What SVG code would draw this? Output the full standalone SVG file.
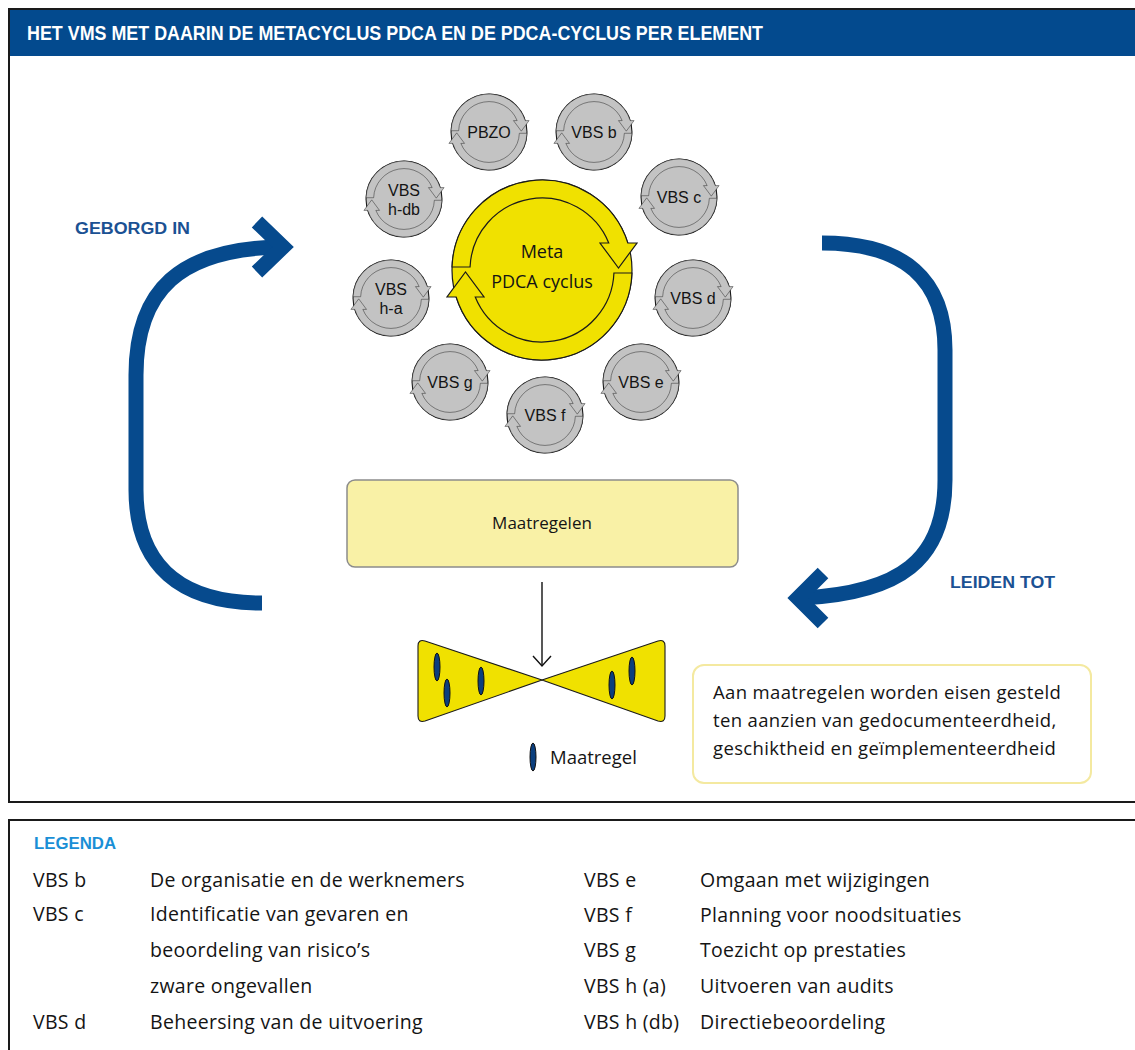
<svg xmlns="http://www.w3.org/2000/svg" xmlns:xlink="http://www.w3.org/1999/xlink" width="1135" height="1050" viewBox="0 0 1135 1050">
  <style>
    .txt { font-family: "Open Sans", "Liberation Sans", sans-serif; fill: #141414; }
    .head { font-family: "Liberation Sans", Arial, sans-serif; font-weight: bold; }
    .node-lbl { font-family: "Liberation Sans", Arial, sans-serif; font-size: 16px; text-anchor: middle; fill: #141414; }
    .leg { font-size: 19.5px; letter-spacing: 0.3px; }
    .note { font-size: 18.5px; letter-spacing: 0.35px; }
    .ring-y { fill: #f0e100; stroke: #1a1a1a; stroke-width: 1.2; }
    .ring-g { fill: #c3c3c3; stroke: #1a1a1a; stroke-width: 1.1; vector-effect: non-scaling-stroke; }
    .big-arrow { fill: none; stroke: #064a8d; stroke-width: 15; }
    .chev { fill: none; stroke: #064a8d; stroke-width: 15; stroke-linejoin: miter; stroke-miterlimit: 4; }
    .measure { fill: #0b3f7e; stroke: #111; stroke-width: 1; }
  </style>
  <defs>
    <!-- one half of a PDCA cycle ring, drawn for outer radius 90 / inner radius 72 -->
    <path id="cycle-half" d="M -89.95 -3 A 90 90 0 0 1 85.85 -27 L 95 -27 L 76.5 -2 L 58 -27 L 66.75 -27 A 72 72 0 0 0 -71.94 -3 Z"/>
  </defs>

  <!-- frame and title bar -->
  <rect x="9" y="9" width="1140" height="793" fill="#ffffff" stroke="#1a1a1a" stroke-width="2"/>
  <rect x="10" y="10" width="1130" height="46" fill="#034a8e"/>
  <text class="head" x="27" y="40" font-size="20" fill="#ffffff" textLength="736" lengthAdjust="spacingAndGlyphs">HET VMS MET DAARIN DE METACYCLUS PDCA EN DE PDCA-CYCLUS PER ELEMENT</text>

  <!-- central meta cycle -->
  <g id="node-meta">
    <circle cx="542" cy="270" r="90" class="ring-y"/>
    <use xlink:href="#cycle-half" href="#cycle-half" class="ring-y" transform="translate(542 270)"/>
    <use xlink:href="#cycle-half" href="#cycle-half" class="ring-y" transform="translate(542 270) rotate(180)"/>
    <text class="txt" x="542" y="258" font-size="18" text-anchor="middle">Meta</text>
    <text class="txt" x="542" y="288" font-size="18" text-anchor="middle">PDCA cyclus</text>
  </g>

  <!-- element cycles -->
  <g id="node-pbzo">
    <g transform="translate(489 132) scale(0.422)">
      <circle r="90" class="ring-g"/>
      <use xlink:href="#cycle-half" href="#cycle-half" class="ring-g"/>
      <use xlink:href="#cycle-half" href="#cycle-half" class="ring-g" transform="rotate(180)"/>
    </g>
    <text class="node-lbl" x="489" y="138">PBZO</text>
  </g>
  <g id="node-vbs-b">
    <g transform="translate(594 132) scale(0.422)">
      <circle r="90" class="ring-g"/>
      <use xlink:href="#cycle-half" href="#cycle-half" class="ring-g"/>
      <use xlink:href="#cycle-half" href="#cycle-half" class="ring-g" transform="rotate(180)"/>
    </g>
    <text class="node-lbl" x="594" y="138">VBS b</text>
  </g>
  <g id="node-vbs-c">
    <g transform="translate(679 197) scale(0.422)">
      <circle r="90" class="ring-g"/>
      <use xlink:href="#cycle-half" href="#cycle-half" class="ring-g"/>
      <use xlink:href="#cycle-half" href="#cycle-half" class="ring-g" transform="rotate(180)"/>
    </g>
    <text class="node-lbl" x="679" y="203">VBS c</text>
  </g>
  <g id="node-vbs-d">
    <g transform="translate(693 298) scale(0.422)">
      <circle r="90" class="ring-g"/>
      <use xlink:href="#cycle-half" href="#cycle-half" class="ring-g"/>
      <use xlink:href="#cycle-half" href="#cycle-half" class="ring-g" transform="rotate(180)"/>
    </g>
    <text class="node-lbl" x="693" y="304">VBS d</text>
  </g>
  <g id="node-vbs-e">
    <g transform="translate(641 382) scale(0.422)">
      <circle r="90" class="ring-g"/>
      <use xlink:href="#cycle-half" href="#cycle-half" class="ring-g"/>
      <use xlink:href="#cycle-half" href="#cycle-half" class="ring-g" transform="rotate(180)"/>
    </g>
    <text class="node-lbl" x="641" y="388">VBS e</text>
  </g>
  <g id="node-vbs-f">
    <g transform="translate(545 415) scale(0.422)">
      <circle r="90" class="ring-g"/>
      <use xlink:href="#cycle-half" href="#cycle-half" class="ring-g"/>
      <use xlink:href="#cycle-half" href="#cycle-half" class="ring-g" transform="rotate(180)"/>
    </g>
    <text class="node-lbl" x="545" y="421">VBS f</text>
  </g>
  <g id="node-vbs-g">
    <g transform="translate(450 382) scale(0.422)">
      <circle r="90" class="ring-g"/>
      <use xlink:href="#cycle-half" href="#cycle-half" class="ring-g"/>
      <use xlink:href="#cycle-half" href="#cycle-half" class="ring-g" transform="rotate(180)"/>
    </g>
    <text class="node-lbl" x="450" y="388">VBS g</text>
  </g>
  <g id="node-vbs-ha">
    <g transform="translate(391 298) scale(0.422)">
      <circle r="90" class="ring-g"/>
      <use xlink:href="#cycle-half" href="#cycle-half" class="ring-g"/>
      <use xlink:href="#cycle-half" href="#cycle-half" class="ring-g" transform="rotate(180)"/>
    </g>
    <text class="node-lbl" x="391" y="295">VBS</text>
    <text class="node-lbl" x="391" y="314">h-a</text>
  </g>
  <g id="node-vbs-hdb">
    <g transform="translate(404 199) scale(0.422)">
      <circle r="90" class="ring-g"/>
      <use xlink:href="#cycle-half" href="#cycle-half" class="ring-g"/>
      <use xlink:href="#cycle-half" href="#cycle-half" class="ring-g" transform="rotate(180)"/>
    </g>
    <text class="node-lbl" x="404" y="196">VBS</text>
    <text class="node-lbl" x="404" y="215">h-db</text>
  </g>

  <!-- measures box -->
  <g id="node-maatregelen">
    <rect x="347" y="480" width="391" height="87" rx="8" fill="#f9f1a6" stroke="#8c8c8c" stroke-width="1.5"/>
    <text class="txt" x="542" y="529" font-size="17" text-anchor="middle">Maatregelen</text>
  </g>

  <!-- bow-tie with measures -->
  <g id="node-bowtie">
    <path d="M 542 680 L 425 641 Q 418 639 418 646 L 418 716 Q 418 723 425 721 Z" fill="#f0e100" stroke="#1a1a1a" stroke-width="1.1"/>
    <path d="M 542 680 L 658 641 Q 665 639 665 646 L 665 716 Q 665 723 658 721 Z" fill="#f0e100" stroke="#1a1a1a" stroke-width="1.1"/>
    <ellipse class="measure" cx="437" cy="667" rx="3" ry="14"/>
    <ellipse class="measure" cx="447" cy="693" rx="3" ry="14"/>
    <ellipse class="measure" cx="481" cy="681" rx="3" ry="14"/>
    <ellipse class="measure" cx="612" cy="685" rx="3" ry="14"/>
    <ellipse class="measure" cx="632" cy="671" rx="3" ry="14"/>
  </g>

  <!-- legend for the measure mark -->
  <g id="node-maatregel-key">
    <ellipse class="measure" cx="533" cy="757" rx="3" ry="14"/>
    <text class="txt" x="550" y="764" font-size="18.5">Maatregel</text>
  </g>

  <!-- requirements note -->
  <g id="node-note">
    <rect x="693" y="665" width="398" height="118" rx="11" fill="#ffffff" stroke="#f4e9a0" stroke-width="2"/>
    <text class="txt note" x="713" y="699">Aan maatregelen worden eisen gesteld</text>
    <text class="txt note" x="713" y="727">ten aanzien van gedocumenteerdheid,</text>
    <text class="txt note" x="713" y="755">geschiktheid en geïmplementeerdheid</text>
  </g>

  <!-- connectors -->
  <g id="connectors">
    <path class="big-arrow" d="M 262 603 C 180 603, 136 565, 136 490 L 136 375 C 136 290, 180 249, 280 247"/>
    <polyline class="chev" points="257,222 283,247 257,272"/>
    <path class="big-arrow" d="M 822 243 C 905 243, 945 280, 945 350 L 945 480 C 945 560, 900 593, 802 598"/>
    <polyline class="chev" points="823,573 798,598 823,623"/>
    <line x1="542" y1="582" x2="542" y2="666" stroke="#111" stroke-width="1.4"/>
    <polyline points="533,656 542,666 551,656" fill="none" stroke="#111" stroke-width="1.4"/>
  </g>

  <text class="head" x="75" y="234" font-size="16" fill="#1b5193" textLength="115" lengthAdjust="spacingAndGlyphs">GEBORGD IN</text>
  <text class="head" x="950" y="588" font-size="16" fill="#1b5193" textLength="105" lengthAdjust="spacingAndGlyphs">LEIDEN TOT</text>

  <!-- legend -->
  <g id="legend">
    <rect x="9" y="820" width="1140" height="240" fill="#ffffff" stroke="#1a1a1a" stroke-width="2"/>
    <text class="head" x="34" y="849" font-size="16" fill="#1a8fd6" textLength="82" lengthAdjust="spacingAndGlyphs">LEGENDA</text>
    <text class="txt leg" x="33" y="887">VBS b</text>
    <text class="txt leg" x="150" y="887">De organisatie en de werknemers</text>
    <text class="txt leg" x="33" y="921">VBS c</text>
    <text class="txt leg" x="150" y="921">Identificatie van gevaren en</text>
    <text class="txt leg" x="150" y="957">beoordeling van risico’s</text>
    <text class="txt leg" x="150" y="993">zware ongevallen</text>
    <text class="txt leg" x="33" y="1029">VBS d</text>
    <text class="txt leg" x="150" y="1029">Beheersing van de uitvoering</text>
    <text class="txt leg" x="584" y="887">VBS e</text>
    <text class="txt leg" x="700" y="887">Omgaan met wijzigingen</text>
    <text class="txt leg" x="584" y="922">VBS f</text>
    <text class="txt leg" x="700" y="922">Planning voor noodsituaties</text>
    <text class="txt leg" x="584" y="957">VBS g</text>
    <text class="txt leg" x="700" y="957">Toezicht op prestaties</text>
    <text class="txt leg" x="584" y="993">VBS h (a)</text>
    <text class="txt leg" x="700" y="993">Uitvoeren van audits</text>
    <text class="txt leg" x="584" y="1029">VBS h (db)</text>
    <text class="txt leg" x="700" y="1029">Directiebeoordeling</text>
  </g>
</svg>
